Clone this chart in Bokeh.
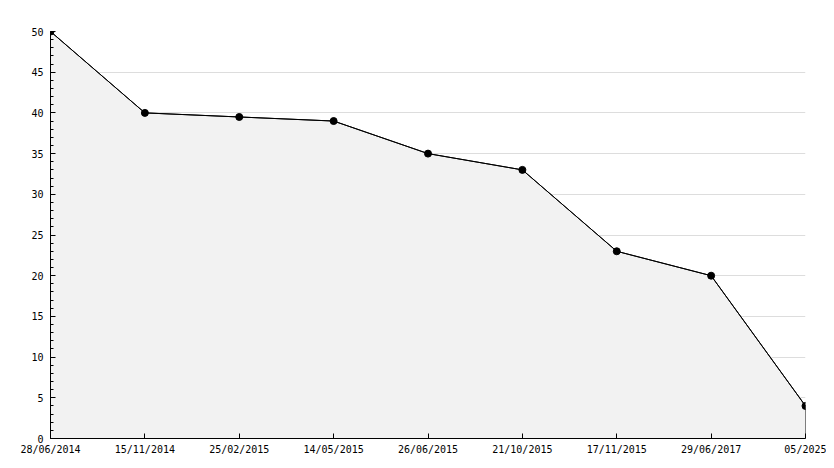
from bokeh.plotting import figure
from bokeh.models import Range1d, FixedTicker, SingleIntervalTicker
from bokeh.embed import file_html
from bokeh.resources import INLINE

dates = ["28/06/2014", "15/11/2014", "25/02/2015", "14/05/2015", "26/06/2015",
         "21/10/2015", "17/11/2015", "29/06/2017", "05/2025"]
values = [50, 40, 39.5, 39, 35, 33, 23, 20, 4]
xs = list(range(len(dates)))

p = figure(width=826, height=460, output_backend="svg", toolbar_location=None,
           x_range=Range1d(0, len(dates) - 1), y_range=Range1d(0, 50),
           min_border_left=50, min_border_right=21, min_border_top=31, min_border_bottom=22)
p.outline_line_color = None
p.background_fill_color = "white"
p.border_fill_color = "white"

# area
px = [xs[0]] + xs + [xs[-1]]
py = [0] + values + [0]
p.patch(px, py, fill_color="#f2f2f2", line_color="black", line_width=1)
p.line(xs, values, line_color="black", line_width=1)
p.scatter(xs, values, size=7, marker="circle", color="black")

font = "DejaVu Sans Mono"

p.xgrid.grid_line_color = None
p.ygrid.grid_line_color = "#dddddd"
p.ygrid.ticker = SingleIntervalTicker(interval=5)

p.yaxis.ticker = SingleIntervalTicker(interval=5, num_minor_ticks=5)
p.yaxis.major_tick_in = 5
p.yaxis.major_tick_out = 0
p.yaxis.minor_tick_in = 3
p.yaxis.minor_tick_out = 0
p.yaxis.major_label_standoff = 7

p.xaxis.ticker = FixedTicker(ticks=xs)
p.xaxis.major_label_overrides = {i: d for i, d in zip(xs, dates)}
p.xaxis.major_tick_in = 5
p.xaxis.major_tick_out = 0
p.xaxis.minor_tick_line_color = None
p.xaxis.major_label_standoff = 5

for ax in (p.xaxis, p.yaxis):
    ax.axis_line_color = "black"
    ax.major_tick_line_color = "black"
    ax.major_label_text_font = font
    ax.major_label_text_font_size = "10px"
    ax.major_label_text_color = "black"
p.yaxis.minor_tick_line_color = "black"

open("out.html", "w").write(file_html(p, INLINE))
